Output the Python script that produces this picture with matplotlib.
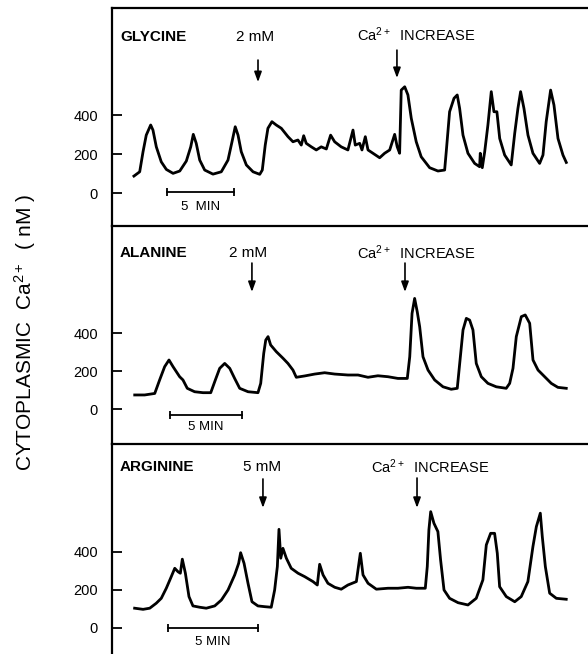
import matplotlib
matplotlib.use("Agg")
import matplotlib.pyplot as plt

plt.rcParams['font.family'] = ['Liberation Sans', 'DejaVu Sans']
plt.rcParams['mathtext.fontset'] = 'custom'
plt.rcParams['mathtext.rm'] = 'Liberation Sans'
plt.rcParams['mathtext.it'] = 'Liberation Sans:italic'
plt.rcParams['mathtext.bf'] = 'Liberation Sans:bold'

# ---------------- data (time in minutes, Ca2+ in nM) ----------------
gly_t = [0.07, 0.5, 0.75, 0.99, 1.32, 1.49, 1.74, 2.11, 2.49, 2.99, 3.49, 3.98, 4.31, 4.5, 4.72,
         4.98, 5.35, 5.97, 6.59, 7.09, 7.39, 7.63, 7.84, 8.08, 8.46, 8.96, 9.46, 9.65, 9.87, 10.07,
         10.37, 10.69, 11.07, 11.57, 11.94, 12.31, 12.56, 12.74, 12.93, 13.31, 13.68, 14.05, 14.43,
         14.75, 15.05, 15.54, 16.04, 16.42, 16.59, 16.92, 17.09, 17.34, 17.54, 17.91, 18.41, 18.78,
         19.16, 19.53, 19.72, 19.9, 20.02, 20.28, 20.52, 20.77, 21.14, 21.51, 22.14, 22.76, 23.26,
         23.38, 23.63, 23.96, 24.2, 24.38, 24.63, 25.0, 25.5, 25.87, 25.92, 26.07, 26.25, 26.49,
         26.74, 26.94, 27.16, 27.37, 27.74, 28.23, 28.49, 28.73, 28.93, 29.18, 29.48, 29.85, 30.35,
         30.6, 30.84, 31.17, 31.42, 31.72, 32.09, 32.34]
gly_v = [87, 109, 212, 297, 349, 323, 237, 160, 121, 101, 113, 164, 237, 301, 255,
         169, 118, 97, 109, 169, 263, 340, 297, 212, 144, 109, 96, 118, 246, 332,
         366, 349, 332, 289, 263, 272, 246, 294, 255, 237, 221, 237, 226,
         297, 263, 237, 221, 323, 246, 255, 221, 289, 221, 204, 181, 204,
         221, 301, 237, 204, 528, 545, 503, 383, 263, 186, 130, 113, 118,
         212, 417, 486, 503, 434, 297, 204, 152, 135, 204, 130, 212, 349,
         520, 417, 417, 280, 195, 144, 306, 434, 520, 434, 297, 204, 152,
         195, 366, 528, 451, 280, 195, 157]

ala_t = [0.12, 0.81, 1.51, 1.85, 2.2, 2.5, 2.78, 3.24, 3.47, 3.77, 4.28, 4.86, 5.4, 5.72, 6.02,
         6.37, 6.72, 7.06, 7.41, 7.99, 8.68, 8.87, 9.08, 9.22, 9.38, 9.56, 9.95, 10.42, 10.76,
         11.11, 11.34, 11.92, 12.62, 13.31, 14.01, 14.93, 15.63, 16.32, 17.01, 17.71, 18.4, 19.05,
         19.22, 19.38, 19.56, 19.74, 19.91, 20.14, 20.49, 20.95, 21.53, 22.1, 22.52, 22.69, 22.92,
         23.15, 23.38, 23.61, 23.84, 24.19, 24.65, 25.23, 25.92, 26.16, 26.39, 26.62, 26.97, 27.24,
         27.55, 27.78, 28.13, 28.59, 29.05, 29.51, 30.09]
ala_v = [74, 74, 82, 153, 223, 258, 223, 170, 153, 109, 91, 86, 86, 153, 214,
         240, 214, 161, 109, 91, 86, 135, 293, 363, 381, 337, 302, 267, 240,
         205, 167, 174, 184, 191, 184, 179, 179, 167, 175, 170, 161, 161,
         275, 503, 582, 512, 433, 275, 205, 153, 117, 104, 109, 240, 416,
         477, 468, 416, 240, 170, 135, 117, 109, 135, 214, 381, 486, 495,
         451, 258, 205, 170, 135, 114, 109]

arg_t = [0.09, 0.56, 0.93, 1.29, 1.57, 1.85, 2.09, 2.32, 2.5, 2.63, 2.74, 2.91, 3.11, 3.33, 3.71,
         4.07, 4.54, 4.91, 5.28, 5.65, 5.87, 5.98, 6.17, 6.39, 6.61, 6.94, 7.32, 7.68, 7.87, 8.02,
         8.11, 8.21, 8.33, 8.52, 8.79, 9.17, 9.54, 10.0, 10.24, 10.37, 10.56, 10.83, 11.21, 11.57,
         11.94, 12.41, 12.63, 12.78, 13.06, 13.52, 14.17, 14.72, 15.28, 15.74, 16.24, 16.35, 16.44,
         16.54, 16.72, 16.94, 17.09, 17.28, 17.59, 18.06, 18.61, 19.07, 19.44, 19.63, 19.87, 20.09,
         20.24, 20.37, 20.74, 21.21, 21.57, 21.94, 22.22, 22.41, 22.63, 22.74, 22.91, 23.15, 23.52,
         24.07]
arg_v = [104, 98, 104, 130, 156, 209, 262, 314, 296, 288, 362, 288, 165, 116, 109,
         104, 116, 147, 200, 279, 340, 396, 340, 235, 138, 116, 112, 109, 200, 323,
         519, 367, 419, 367, 314, 288, 270, 244, 226, 335, 279, 235, 214, 204,
         226, 244, 393, 279, 235, 204, 209, 209, 214, 209, 209, 323, 516,
         612, 551, 507, 358, 200, 156, 133, 121, 156, 253, 437, 498, 498,
         393, 217, 165, 138, 165, 244, 428, 533, 604, 481, 323, 183, 156,
         151]

names = ["GLYCINE", "ALANINE", "ARGININE"]
doses = ["2 mM", "2 mM", "5 mM"]
yticks = [0, 200, 400]
ytick_labels = ["0", "200", "400"]
bar_minutes = 5

# ---------------- layout (pixels) ----------------
W, H = 588, 654
fig = plt.figure(figsize=(W / 100, H / 100), dpi=100)

panels = [
    dict(t=gly_t, v=gly_v, top=8, bot=226, xlim=(-1.567, 33.96), ylim=(-169, 949),
         name_xy=(-0.97, 800), dose_xy=(9.1, 800), dose_arrow=(9.33, 682, 569),
         ca_xy=(16.72, 810), ca_arrow=(19.7, 733, 590),
         bar=(2.54, 5), bar_txt=-72, bar_label="5  MIN"),
    dict(t=ala_t, v=ala_v, top=226, bot=444, xlim=(-1.458, 31.6), ylim=(-184, 963),
         name_xy=(-0.9, 821), dose_xy=(7.99, 821), dose_arrow=(8.26, 768, 616),
         ca_xy=(15.56, 821), ca_arrow=(18.89, 768, 616),
         bar=(2.57, -32), bar_txt=-95, bar_label="5 MIN"),
    dict(t=arg_t, v=arg_v, top=444, bot=654, xlim=(-1.167, 25.28), ylim=(-137, 968),
         name_xy=(-0.72, 847), dose_xy=(7.17, 847), dose_arrow=(7.22, 784, 632),
         ca_xy=(13.22, 847), ca_arrow=(15.78, 789, 632),
         bar=(1.94, 0), bar_txt=-74, bar_label="5 MIN"),
]

for i, p in enumerate(panels):
    ax = fig.add_axes([112 / W, (H - p['bot']) / H, 1 - 112 / W, (p['bot'] - p['top']) / H])
    ax.plot(p['t'], p['v'], color='black', lw=2.0, solid_joinstyle='round')
    ax.set_xlim(*p['xlim'])
    ax.set_ylim(*p['ylim'])
    for s in ['right', 'bottom']:
        ax.spines[s].set_visible(False)
    for s in ['left', 'top']:
        ax.spines[s].set_linewidth(1.6)
    ax.set_xticks([])
    ax.set_yticks(yticks)
    ax.set_yticklabels(ytick_labels)
    ax.tick_params(axis='y', direction='in', length=7.5, width=1.3, pad=10, labelsize=10.5)

    ax.text(*p['name_xy'], names[i], fontsize=11, fontweight='bold', ha='left', va='center')
    ax.text(*p['dose_xy'], doses[i], fontsize=11, ha='center', va='center')
    ax.text(*p['ca_xy'], r"Ca$\mathregular{^{2+}}$  INCREASE", fontsize=10.5, ha='left', va='center')

    for (x, y0, y1) in [p['dose_arrow'], p['ca_arrow']]:
        ax.annotate('', xy=(x, y1), xytext=(x, y0),
                    arrowprops=dict(arrowstyle='-|>,head_length=0.6,head_width=0.22',
                                    color='black', lw=1.2, shrinkA=0, shrinkB=0))

    b0, by = p['bar']
    ax.plot([b0, b0 + bar_minutes], [by, by], color='black', lw=1.3)
    ax.plot([b0, b0 + bar_minutes], [by, by], color='black', lw=0, marker='|', ms=6, mew=1.3)
    ax.text(b0 + bar_minutes / 2, p['bar_txt'], p['bar_label'],
            fontsize=9.5, ha='center', va='center')

fig.text(25 / W, (H - 333) / H, r"CYTOPLASMIC  Ca$\mathregular{^{2+}}$  ( nM )",
         rotation=90, fontsize=15, ha='center', va='center')

fig.savefig("out.png", dpi=100)
